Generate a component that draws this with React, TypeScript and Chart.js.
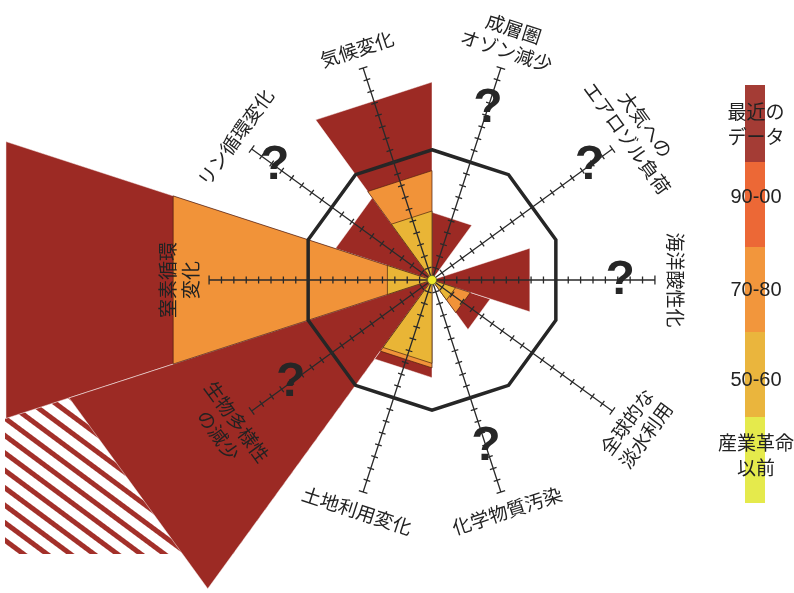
import React, { useEffect, useRef } from 'react';
import { Chart, registerables } from 'chart.js';

// ---- DATA --------------------------------------------------------------
// Planetary boundaries, clockwise, first one at 18° from north, 36° apart
const BOUNDARIES = [
  '成層圏\nオゾン減少',
  '大気への\nエアロゾル負荷',
  '海洋酸性化',
  '全球的な\n淡水利用',
  '化学物質汚染',
  '土地利用変化',
  '生物多様性\nの減少',
  '窒素循環\n変化',
  'リン循環変化',
  '気候変化',
];
// values along each axis in tick units (safe operating boundary = 10)
const ERA_1950_60 = [0, 0, 0, 1.9, 0, 6.4, 0, 3.6, 0, 5.3];
const ERA_1970_80 = [0, 0, 0, 3.1, 0, 6.75, 0, 20.9, 0, 8.4];
const RECENT_DATA = [5.2, 0, 7.9, 4.7, 0, 7.5, 29.3, 34.4, 7.8, 15.2];
const OFF_SCALE = [0, 0, 0, 0, 0, 0, 60, 0, 0, 0];
const UNKNOWN = [true, true, true, false, true, false, true, false, true, false];
const SAFE_BOUNDARY = 10;
const AXIS_LENGTH = 18;

const LEGEND_LABELS = ['最近の\nデータ', '90-00', '70-80', '50-60', '産業革命\n以前'];
const LEGEND_COLORS = ['#a43c35', '#ec6836', '#f2963c', '#eab53d', '#e5ea4c'];

// ---- LAYOUT / STYLE ----------------------------------------------------
const CANVAS_W = 864;
const CANVAS_H = 644;
const CANVAS_TOP = -42;
const R_MAX = 26;
const QMARK_AT = [14.6, 15.7, 15.2, 0, 14.1, 0, 14.1, 0, 15.7, 0];
const LEGEND_EDGES = [85, 162, 247, 332, 417, 503];
const LEGEND_TEXT_Y = [124, 197, 290, 380, 455];
const LEGEND_X = 745;
const LEGEND_W = 20;
const COL_YELLOW = '#e9b536';
const COL_ORANGE = '#f19339';
const COL_RED = '#9c2a24';
const HATCH_RED = '#a3302a';
const INK = '#222222';

const clipBoxPlugin = {
  id: 'datasetClipBox',
  beforeDatasetDraw(chart: any, args: any) {
    const ds: any = chart.data.datasets[args.index];
    if (!ds || !ds.clipBox) return;
    const b = ds.clipBox;
    const ctx = chart.ctx;
    ctx.save();
    ctx.beginPath();
    ctx.rect(b.left, b.top, b.right - b.left, b.bottom - b.top);
    ctx.clip();
  },
  afterDatasetDraw(chart: any, args: any) {
    const ds: any = chart.data.datasets[args.index];
    if (ds && ds.clipBox) chart.ctx.restore();
  },
};
Chart.register(clipBoxPlugin as any);
Chart.register(...registerables);

const N = BOUNDARIES.length;
const SPOKES = N * 2;
const HALF = Math.cos(Math.PI / N);

function wedgeData(k: number, v: number): number[] {
  const d = new Array(SPOKES).fill(0);
  d[2 * k] = v / HALF;
  d[2 * k + 1] = v;
  d[(2 * k + 2) % SPOKES] = v / HALF;
  return d;
}

const overlayPlugin = {
  id: 'overlay',
  afterDatasetsDraw(chart: any) {
    const sc: any = chart.scales.r;
    const ctx: CanvasRenderingContext2D = chart.ctx;
    ctx.save();
    // axes with ticks
    ctx.strokeStyle = '#2a2a2a';
    ctx.lineWidth = 1.3;
    BOUNDARIES.forEach((_, k) => {
      const idx = 2 * k + 1;
      const o = sc.getPointPositionForValue(idx, 0);
      const e = sc.getPointPositionForValue(idx, AXIS_LENGTH);
      const ux = Math.cos(e.angle);
      const uy = Math.sin(e.angle);
      const px = -uy;
      const py = ux;
      ctx.beginPath();
      ctx.moveTo(o.x, o.y);
      ctx.lineTo(e.x, e.y);
      for (let t = 1; t <= AXIS_LENGTH; t++) {
        const p = sc.getPointPositionForValue(idx, t);
        const h = t === AXIS_LENGTH ? 4.5 : 3.5;
        ctx.moveTo(p.x + px * h, p.y + py * h);
        ctx.lineTo(p.x - px * h, p.y - py * h);
      }
      ctx.stroke();
    });
    // centre dot
    const c = sc.getPointPositionForValue(0, 0);
    ctx.beginPath();
    ctx.arc(c.x, c.y, 4.5, 0, Math.PI * 2);
    ctx.fillStyle = '#eeea2a';
    ctx.fill();
    ctx.lineWidth = 0.8;
    ctx.strokeStyle = 'rgba(90,90,40,0.9)';
    ctx.stroke();
    // question marks
    ctx.fillStyle = '#262626';
    ctx.font = 'bold 48px "Liberation Sans", Arial, sans-serif';
    ctx.textAlign = 'center';
    ctx.textBaseline = 'alphabetic';
    UNKNOWN.forEach((u, k) => {
      if (!u) return;
      const p = sc.getPointPositionForValue(2 * k + 1, QMARK_AT[k]);
      ctx.fillText('?', p.x, p.y - 4 + 17.5);
    });
    // axis labels
    ctx.fillStyle = INK;
    ctx.font = '19px "Noto Sans CJK JP", sans-serif';
    ctx.textBaseline = 'middle';
    BOUNDARIES.forEach((name, k) => {
      const idx = 2 * k + 1;
      const lines = name.split('\n');
      const p = sc.getPointPositionForValue(idx, lines.length > 1 ? 20.4 : 19.6);
      let rot = sc.getIndexAngle(idx);
      while (rot > Math.PI) rot -= Math.PI * 2;
      while (rot <= -Math.PI) rot += Math.PI * 2;
      if (rot > Math.PI / 2 + 1e-6) rot -= Math.PI;
      if (rot < -Math.PI / 2 - 1e-6) rot += Math.PI;
      ctx.save();
      ctx.translate(p.x, p.y);
      ctx.rotate(rot);
      lines.forEach((ln, i) => ctx.fillText(ln, 0, (i - (lines.length - 1) / 2) * 23));
      ctx.restore();
    });
    ctx.restore();
  },
  afterDraw(chart: any) {
    const ctx: CanvasRenderingContext2D = chart.ctx;
    ctx.save();
    LEGEND_COLORS.forEach((col, i) => {
      ctx.fillStyle = col;
      const y0 = LEGEND_EDGES[i] - CANVAS_TOP;
      const y1 = LEGEND_EDGES[i + 1] - CANVAS_TOP;
      ctx.fillRect(LEGEND_X, y0, LEGEND_W, y1 - y0);
    });
    ctx.fillStyle = INK;
    ctx.textAlign = 'center';
    ctx.textBaseline = 'middle';
    LEGEND_LABELS.forEach((lab, i) => {
      const lines = lab.split('\n');
      const numeric = /^[0-9-]+$/.test(lab);
      ctx.font = numeric
        ? '20px "Liberation Sans", Arial, sans-serif'
        : '19px "Noto Sans CJK JP", sans-serif';
      const cy = LEGEND_TEXT_Y[i] - CANVAS_TOP;
      lines.forEach((ln, j) => ctx.fillText(ln, 756, cy + (j - (lines.length - 1) / 2) * 25));
    });
    ctx.restore();
  },
};

export default function App() {
  const ref = useRef<HTMLCanvasElement>(null);
  useEffect(() => {
    const canvas = ref.current!;
    const ctx = canvas.getContext('2d')!;
    const tile = document.createElement('canvas');
    tile.width = 14;
    tile.height = 14;
    const tc = tile.getContext('2d')!;
    tc.fillStyle = '#ffffff';
    tc.fillRect(0, 0, 14, 14);
    tc.fillStyle = HATCH_RED;
    tc.fillRect(0, 0, 14, 5);
    const pattern = ctx.createPattern(tile, 'repeat')!;
    pattern.setTransform(new DOMMatrix().rotateSelf(36.6));

    const labels = new Array(SPOKES).fill('').map((_, i) => (i % 2 ? BOUNDARIES[(i - 1) / 2] : ''));
    const datasets: any[] = [];
    datasets.push({
      label: 'boundary',
      data: new Array(SPOKES).fill(0).map((_, i) => (i % 2 ? SAFE_BOUNDARY : SAFE_BOUNDARY / HALF)),
      fill: false,
      borderColor: '#262626',
      borderWidth: 3.5,
      order: 0,
      clip: false,
    });
    const layers = [
      { values: ERA_1950_60, bg: COL_YELLOW, border: 'rgba(80,40,15,0.8)', bw: 0.9, order: 1 },
      { values: ERA_1970_80, bg: COL_ORANGE, border: 'rgba(80,30,15,0.8)', bw: 0.9, order: 2 },
      { values: RECENT_DATA, bg: COL_RED, border: 'rgba(255,255,255,0.6)', bw: 0.8, order: 3 },
      { values: OFF_SCALE, bg: pattern as any, border: 'rgba(0,0,0,0)', bw: 0, order: 4,
        clipBox: { left: 5, top: 0, right: CANVAS_W, bottom: 554 - CANVAS_TOP } },
    ];
    layers.forEach((L) => {
      L.values.forEach((v, k) => {
        if (!v) return;
        datasets.push({
          label: BOUNDARIES[k],
          data: wedgeData(k, v),
          fill: 'start',
          backgroundColor: L.bg,
          borderColor: L.border,
          borderWidth: L.bw,
          borderJoinStyle: 'bevel',
          order: L.order,
          clip: false,
          clipBox: (L as any).clipBox,
        });
      });
    });

    const chart = new Chart(canvas, {
      type: 'radar',
      data: { labels, datasets },
      options: {
        responsive: false,
        animation: false,
        events: [],
        elements: { point: { radius: 0, hoverRadius: 0, hitRadius: 0 }, line: { tension: 0 } },
        plugins: { legend: { display: false }, tooltip: { enabled: false }, colors: { enabled: false } } as any,
        scales: {
          r: {
            min: 0,
            max: R_MAX,
            startAngle: 0,
            grid: { display: false },
            angleLines: { display: false },
            ticks: { display: false },
            pointLabels: { display: false },
          },
        },
      } as any,
      plugins: [overlayPlugin as any],
    });
    return () => chart.destroy();
  }, []);
  return (
    <div style={{ position: 'fixed', left: 0, top: 0, width: 794, height: 593, overflow: 'hidden', background: '#fff' }}>
      <canvas ref={ref} width={CANVAS_W} height={CANVAS_H} style={{ position: 'absolute', left: 0, top: CANVAS_TOP }} />
    </div>
  );
}
